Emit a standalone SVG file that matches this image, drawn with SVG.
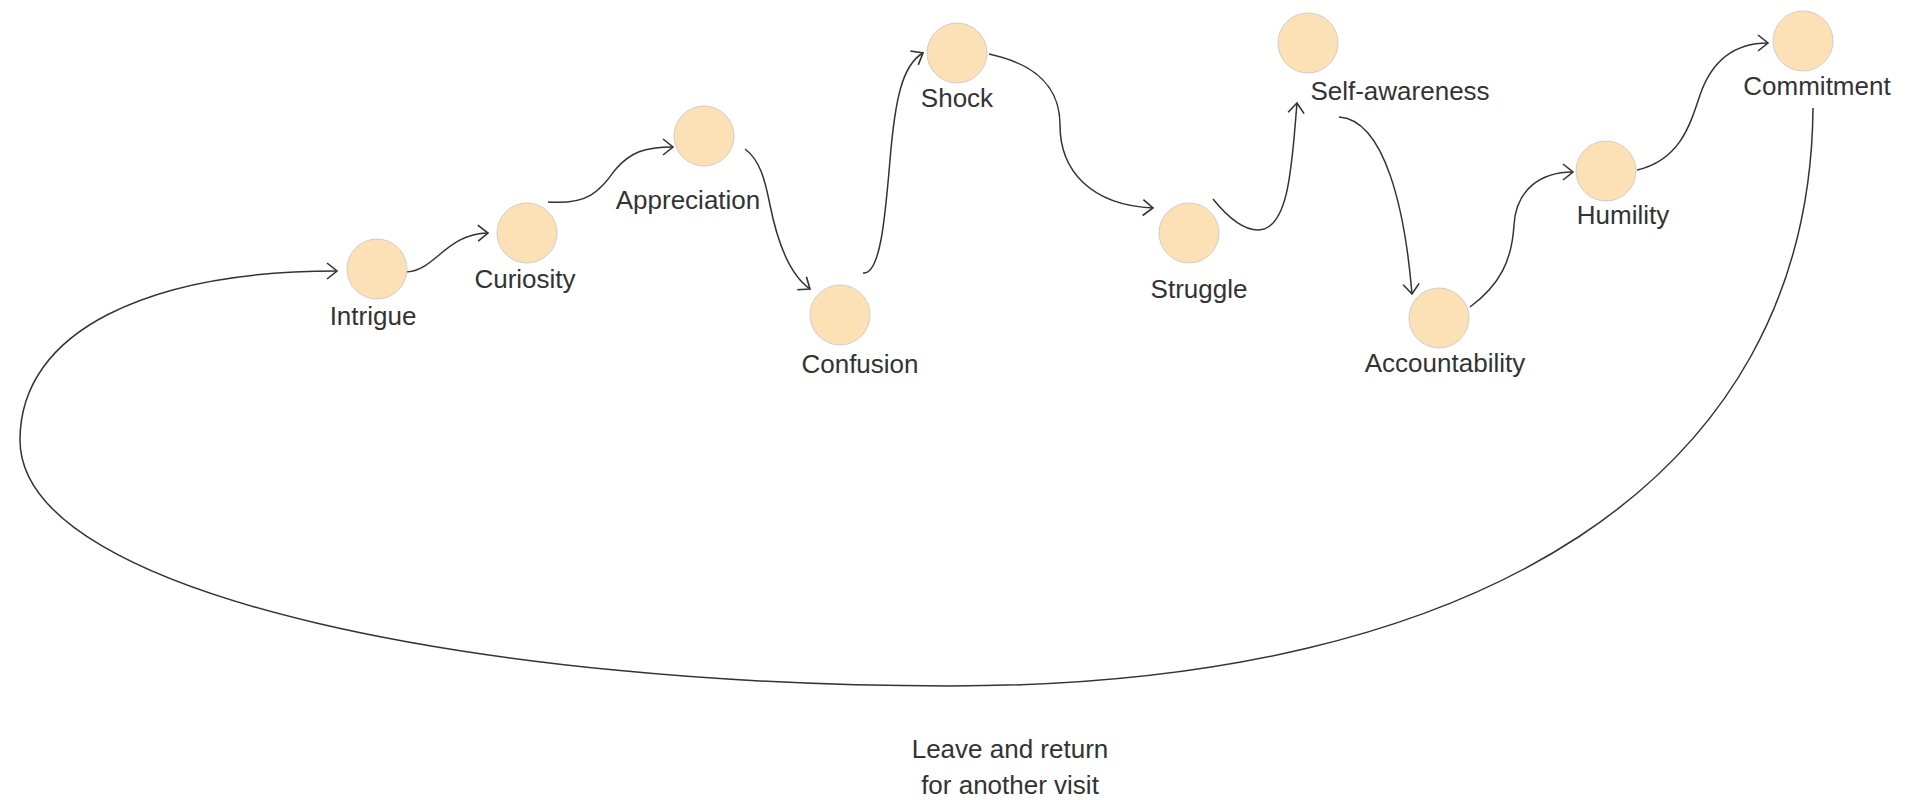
<svg xmlns="http://www.w3.org/2000/svg" width="1919" height="800" viewBox="0 0 1919 800">
<style>
.node circle{fill:#fce0b6;stroke:#d4cdc6;stroke-width:1}
.node text,.note{font-family:"Liberation Sans",Arial,sans-serif;font-size:26px;fill:#333;text-anchor:middle}
.edge{fill:none;stroke:#333;stroke-width:1.5;marker-end:url(#arr)}
.loop{fill:none;stroke:#333;stroke-width:1.5}
</style>
<defs>
<marker id="arr" markerUnits="userSpaceOnUse" markerWidth="16" markerHeight="20" viewBox="-12 -10 16 20" refX="0" refY="0" orient="auto">
<path d="M-10,-8 L0,0 L-10,8" fill="none" stroke="#333" stroke-width="1.6"/>
</marker>
</defs>
<rect width="1919" height="800" fill="#fff"/>
<g id="connectors">
<path class="edge" d="M405,272 C435,272 445,234 488,233"/>
<path class="edge" d="M548,202 C590,205 600,190 615,170 C630,152 645,147 673,147"/>
<path class="edge" d="M745,149 C760,160 765,180 770,205 C778,245 790,275 810,289"/>
<path class="edge" d="M863,273 C880,275 885,220 890,160 C895,100 902,65 923,53"/>
<path class="edge" d="M989,54 C1040,65 1060,90 1060,125 C1060,170 1090,205 1153,208"/>
<path class="edge" d="M1213,199 C1230,220 1245,230 1258,230 C1290,230 1292,160 1297,103"/>
<path class="edge" d="M1339,117 C1385,120 1405,210 1412,294"/>
<path class="edge" d="M1470,307 C1500,285 1512,260 1514,225 C1516,190 1540,172 1573,172"/>
<path class="edge" d="M1637,170 C1680,160 1690,125 1700,95 C1712,60 1735,43 1768,43"/>
<path class="edge" d="M1813,108 C1810,480 1480,686 950,686 C500,686 20,600 20,440 C20,330 150,271 337,271"/>
</g>
<g id="intrigue" class="node"><circle cx="377" cy="269" r="30"/><text x="373" y="325">Intrigue</text></g>
<g id="curiosity" class="node"><circle cx="527" cy="233" r="30"/><text x="525" y="288">Curiosity</text></g>
<g id="appreciation" class="node"><circle cx="704" cy="136" r="30"/><text x="688" y="209">Appreciation</text></g>
<g id="confusion" class="node"><circle cx="840" cy="315" r="30"/><text x="860" y="373">Confusion</text></g>
<g id="shock" class="node"><circle cx="957" cy="53" r="30"/><text x="957" y="107">Shock</text></g>
<g id="struggle" class="node"><circle cx="1189" cy="233" r="30"/><text x="1199" y="298">Struggle</text></g>
<g id="self-awareness" class="node"><circle cx="1308" cy="43" r="30"/><text x="1400" y="100">Self-awareness</text></g>
<g id="accountability" class="node"><circle cx="1439" cy="318" r="30"/><text x="1445" y="372">Accountability</text></g>
<g id="humility" class="node"><circle cx="1606" cy="171" r="30"/><text x="1623" y="224">Humility</text></g>
<g id="commitment" class="node"><circle cx="1803" cy="41" r="30"/><text x="1817" y="95">Commitment</text></g>
<g id="loop-label"><text class="note" x="1010" y="758">Leave and return</text><text class="note" x="1010" y="794">for another visit</text></g>
</svg>
